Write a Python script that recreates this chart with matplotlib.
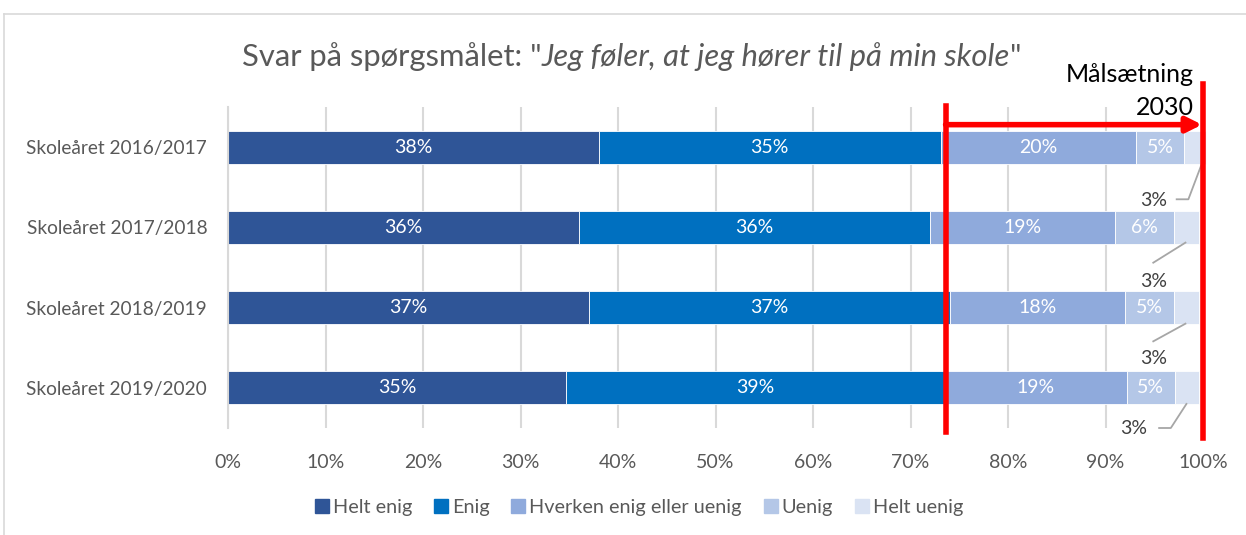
import matplotlib
matplotlib.use("Agg")
import matplotlib.pyplot as plt
import numpy as np
from matplotlib.lines import Line2D

plt.rcParams['font.family'] = ['Lato', 'DejaVu Sans']

# data (percent)
years = ["Skoleåret 2016/2017", "Skoleåret 2017/2018",
         "Skoleåret 2018/2019", "Skoleåret 2019/2020"]
helt_enig = [38.0, 36.0, 37.0, 34.7]
enig = [35.1, 36.0, 37.0, 38.8]
hverken = [20.0, 19.0, 18.0, 18.7]
uenig = [5.0, 6.0, 5.0, 4.9]
helt_uenig = [2.2, 2.6, 2.6, 2.5]
helt_uenig_labels = ["3%", "3%", "3%", "3%"]
series_names = ["Helt enig", "Enig", "Hverken enig eller uenig", "Uenig", "Helt uenig"]
colors = ["#2F5597", "#0070C0", "#8FAADC", "#B4C7E7", "#DAE3F3"]
ticks = np.arange(0, 101, 10)
goal_start = 73.6

grey = "#595959"
W, H = 1246, 535
fig = plt.figure(figsize=(W / 100, H / 100), dpi=100)
ax = fig.add_axes([228 / W, 1 - 428 / H, (1203 - 228) / W, (428 - 107) / H])

series = [helt_enig, enig, hverken, uenig, helt_uenig]
y = np.arange(len(years))
left = np.zeros(len(years))
for i, vals in enumerate(series):
    vals = np.array(vals)
    ax.barh(y, vals, left=left, height=0.41, color=colors[i],
            edgecolor="white", linewidth=0.6, zorder=2, clip_on=False)
    if i < 4:
        for yy, l, v in zip(y, left, vals):
            ax.text(l + v / 2, yy, f"{v:.0f}%", color="white", fontsize=14,
                    ha="center", va="center", zorder=4)
    left = left + vals

# outside labels for "Helt uenig" with leader lines (offsets from bar end)
lead = [([-0.4, -1.8, -3.0], [0.2, 0.65, 0.65], -5.4, 0.66),
        ([-1.4, -4.7], [0.19, 0.44], -4.7, 0.68),
        ([-1.4, -4.7], [0.2, 0.42], -4.7, 0.63),
        ([-1.3, -2.9, -4.1], [0.2, 0.5, 0.5], -6.7, 0.51)]
for yy, end, txt, (lx, ly, tx, ty) in zip(y, left, helt_uenig_labels, lead):
    ax.plot(end + np.array(lx), yy + np.array(ly), color="#a6a6a6", lw=1.3,
            zorder=3, clip_on=False)
    ax.text(end + tx, yy + ty, txt, color="#404040", fontsize=14,
            ha="center", va="center", zorder=4)

ax.set_xlim(0, 100)
ax.set_ylim(3.5, -0.5)
ax.set_xticks(ticks)
ax.set_xticklabels([f"{t}%" for t in ticks], color=grey, fontsize=14)
ax.set_yticks(y)
ax.set_yticklabels(years, color=grey, fontsize=13.8)
ax.tick_params(length=0)
ax.tick_params(axis="x", pad=19)
ax.tick_params(axis="y", pad=15)
for s in ["top", "right", "bottom"]:
    ax.spines[s].set_visible(False)
ax.spines["left"].set_color("#d9d9d9")
ax.spines["left"].set_linewidth(1.5)
ax.xaxis.grid(True, color="#d9d9d9", lw=1.5, zorder=0)
ax.set_axisbelow(True)

# goal marker
red = "#ff0000"
ax.plot([goal_start, goal_start], [-0.51, 3.55], color=red, lw=4, zorder=5, clip_on=False)
ax.plot([100, 100], [-0.79, 3.62], color=red, lw=4, zorder=5, clip_on=False)
ax.annotate("", xy=(99.9, -0.28), xytext=(goal_start, -0.28),
            arrowprops=dict(arrowstyle="-|>,head_length=0.9,head_width=0.45",
                            color=red, lw=4, shrinkA=0, shrinkB=0),
            zorder=5, annotation_clip=False)
ax.text(99.1, -0.90, "Målsætning", ha="right", va="center", fontsize=18, color="black")
ax.text(99.1, -0.49, "2030", ha="right", va="center", fontsize=18, color="black")

# title with italic quote
fig.canvas.draw()
r = fig.canvas.get_renderer()
parts = [('Svar på spørgsmålet: "', "normal"),
         ("Jeg føler, at jeg hører til på min skole", "italic"),
         ('"', "normal")]
texts = [fig.text(0, 1 - 66 / H, p, fontsize=22.3, style=st, color=grey, va="baseline")
         for p, st in parts]
widths = [t.get_window_extent(r).width for t in texts]
x0 = 632 - sum(widths) / 2
for t, w in zip(texts, widths):
    t.set_x(x0 / W)
    x0 += w

handles = [Line2D([], [], marker="s", ls="", color=c, markersize=10) for c in colors]
leg = fig.legend(handles, series_names, loc="center", ncol=5,
                 bbox_to_anchor=(638 / W, 1 - 507 / H), frameon=False,
                 fontsize=14.3, handletextpad=0.1, columnspacing=1.0,
                 handlelength=0.9)
for t in leg.get_texts():
    t.set_color(grey)

# chart border
fig.add_artist(Line2D([4 / W, 1], [1 - 14 / H] * 2, color="#d9d9d9", lw=1.2))
fig.add_artist(Line2D([4 / W] * 2, [0, 1 - 14 / H], color="#d9d9d9", lw=1.2))

fig.savefig("out.png", dpi=100)
